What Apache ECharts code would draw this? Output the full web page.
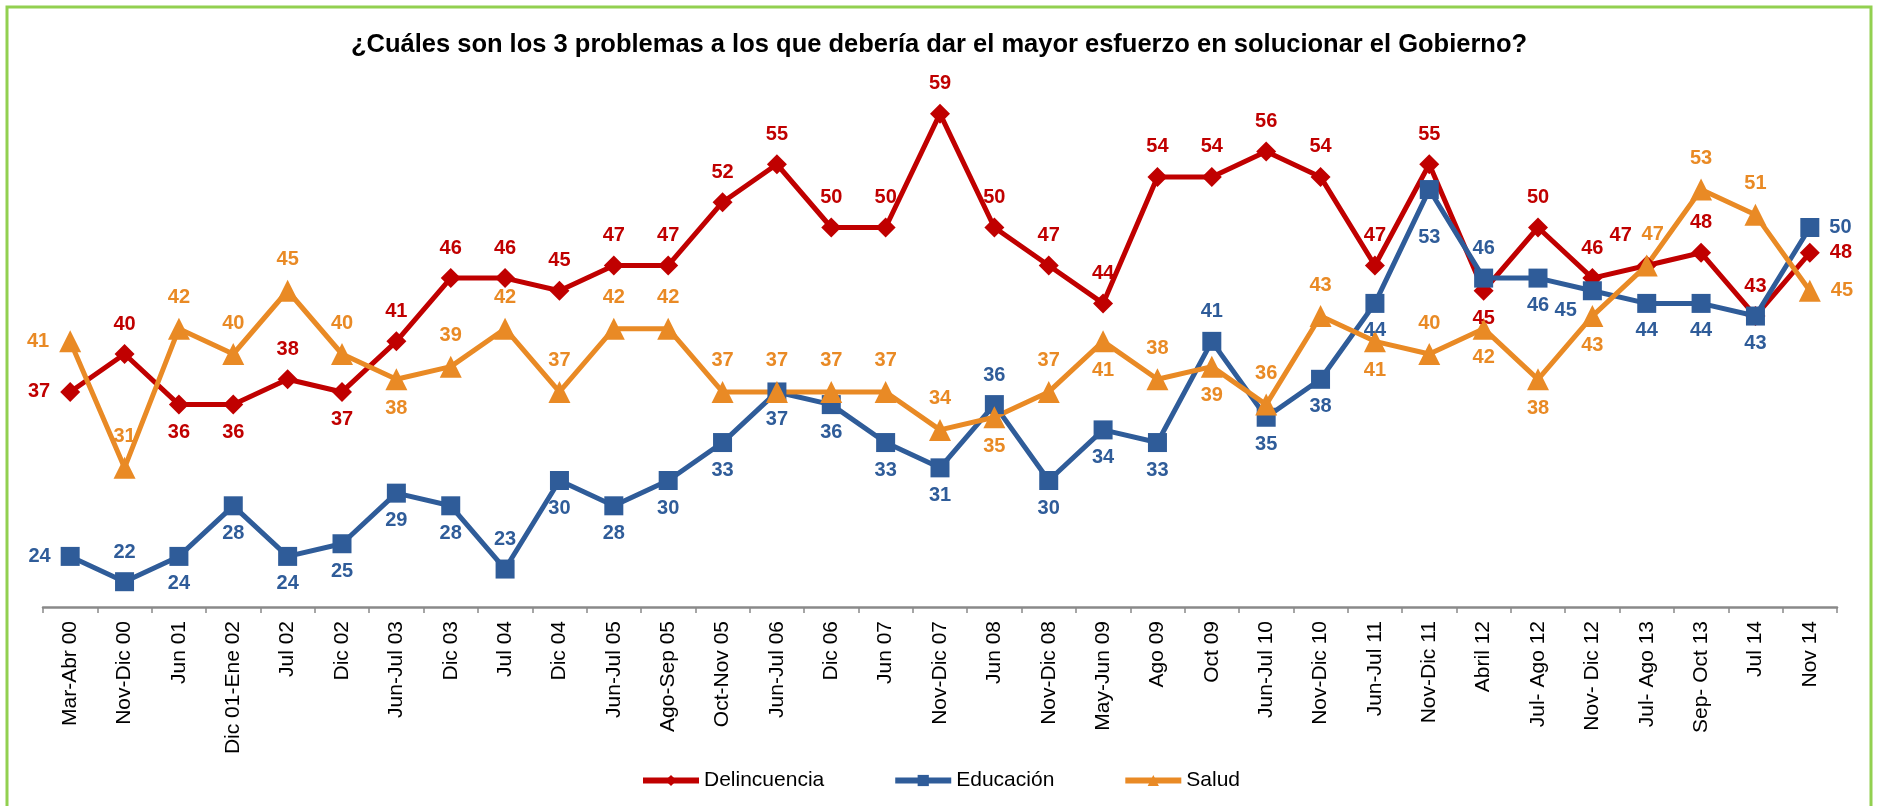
<!DOCTYPE html>
<html>
<head>
<meta charset="utf-8">
<script src="https://cdn.jsdelivr.net/npm/echarts@6/dist/echarts.min.js"></script>
<style>
  html, body { margin: 0; padding: 0; background: #fff; }
  #chart { width: 1878px; height: 806px; }
</style>
</head>
<body>
<div id="chart"></div>
<script>
// categorías (encuestas)
const categorias = [
  "Mar-Abr 00", "Nov-Dic 00", "Jun 01", "Dic 01-Ene 02", "Jul 02", "Dic 02",
  "Jun-Jul 03", "Dic 03", "Jul 04", "Dic 04", "Jun-Jul 05", "Ago-Sep 05",
  "Oct-Nov 05", "Jun-Jul 06", "Dic 06", "Jun 07", "Nov-Dic 07", "Jun 08",
  "Nov-Dic 08", "May-Jun 09", "Ago 09", "Oct 09", "Jun-Jul 10", "Nov-Dic 10",
  "Jun-Jul 11", "Nov-Dic 11", "Abril 12", "Jul- Ago 12", "Nov- Dic 12",
  "Jul- Ago 13", "Sep- Oct 13", "Jul 14", "Nov 14"
];

const delincuencia = [37, 40, 36, 36, 38, 37, 41, 46, 46, 45, 47, 47, 52, 55, 50, 50, 59,
  50, 47, 44, 54, 54, 56, 54, 47, 55, 45, 50, 46, 47, 48, 43, 48];
const educacion = [24, 22, 24, 28, 24, 25, 29, 28, 23, 30, 28, 30, 33, 37, 36, 33, 31,
  36, 30, 34, 33, 41, 35, 38, 44, 53, 46, 46, 45, 44, 44, 43, 50];
const salud = [41, 31, 42, 40, 45, 40, 38, 39, 42, 37, 42, 42, 37, 37, 37, 37, 34,
  35, 37, 41, 38, 39, 36, 43, 41, 40, 42, 38, 43, 47, 53, 51, 45];

// dónde va cada etiqueta (t = arriba, b = abajo, l = izq, r = der ...)
const posDel = ["l", "t", "b", "b", "t", "b", "t", "t", "t", "t", "t", "t", "t", "t", "t", "t", "t",
  "t", "t", "t", "t", "t", "t", "t", "t", "t", "b", "t", "t", "tl", "t", "t", "r"];
const posEdu = ["l", "t", "b", "b", "b", "b", "b", "b", "t", "b", "b", "b", "b", "b", "b", "b", "b",
  "t", "b", "b", "b", "t", "b", "b", "b", "bb", "t", "b", "bl", "b", "b", "b", "r"];
const posSal = ["l", "t", "t", "t", "t", "t", "b", "t", "t", "t", "t", "t", "t", "t", "t", "t", "t",
  "b", "t", "b", "t", "b", "t", "t", "b", "t", "b", "b", "b", "tr", "t", "t", "r"];

const labelCfg = {
  t: { position: "top", distance: 10 },
  b: { position: "bottom", distance: 8 },
  l: { position: "left", distance: 10 },
  r: { position: "right", distance: 10 },
  tl: { position: "top", distance: 10, offset: [-26, 0] },
  tr: { position: "top", distance: 10, offset: [6, 0] },
  bb: { position: "bottom", distance: 28 },
  bl: { position: "left", distance: 6, offset: [0, 20] }
};

const fuente = "Arial, 'Liberation Sans', sans-serif";

function puntos(valores, pos) {
  return valores.map((v, i) => ({ value: v, label: labelCfg[pos[i]] }));
}

function serie(nombre, valores, pos, color, simbolo, tam) {
  return {
    name: nombre,
    type: "line",
    data: puntos(valores, pos),
    symbol: simbolo,
    symbolSize: tam,
    showAllSymbol: true,
    lineStyle: { color: color, width: 5 },
    itemStyle: { color: color },
    label: {
      show: true,
      color: color,
      fontSize: 20,
      fontWeight: "bold",
      fontFamily: fuente
    },
    emphasis: { disabled: true },
    animation: false
  };
}

const chart = echarts.init(document.getElementById("chart"));

chart.setOption({
  backgroundColor: "#fff",
  graphic: [{
    type: "rect",
    shape: { x: 7, y: 7, width: 1864, height: 830 },
    style: { fill: "none", stroke: "#92D050", lineWidth: 3 },
    silent: true
  }],
  title: {
    text: "¿Cuáles son los 3 problemas a los que debería dar el mayor esfuerzo en solucionar el Gobierno?",
    left: "center",
    top: 27,
    textStyle: {
      fontSize: 25.5,
      fontWeight: "bold",
      color: "#000",
      fontFamily: fuente
    }
  },
  legend: {
    top: 765,
    left: 635,
    itemWidth: 56,
    itemHeight: 14,
    itemGap: 68,
    lineStyle: { width: 6 },
    textStyle: {
      fontSize: 21,
      color: "#000",
      fontFamily: fuente
    },
    data: ["Delincuencia", "Educación", "Salud"]
  },
  grid: { left: 43, right: 41, top: 101, bottom: 199 },
  xAxis: {
    type: "category",
    data: categorias,
    boundaryGap: true,
    axisLine: { lineStyle: { color: "#898989", width: 2.5 } },
    axisTick: { show: true, length: 6, lineStyle: { color: "#898989", width: 1.5 } },
    axisLabel: {
      interval: 0,
      rotate: 90,
      margin: 14,
      fontSize: 21,
      color: "#000",
      fontFamily: fuente
    }
  },
  yAxis: {
    type: "value",
    min: 20,
    max: 60,
    show: false,
    splitLine: { show: false }
  },
  series: [
    serie("Delincuencia", delincuencia, posDel, "#C00000", "diamond", 20),
    serie("Educación", educacion, posEdu, "#2F5C99", "rect", 19),
    serie("Salud", salud, posSal, "#E98A25", "triangle", 22)
  ]
});
</script>
</body>
</html>
